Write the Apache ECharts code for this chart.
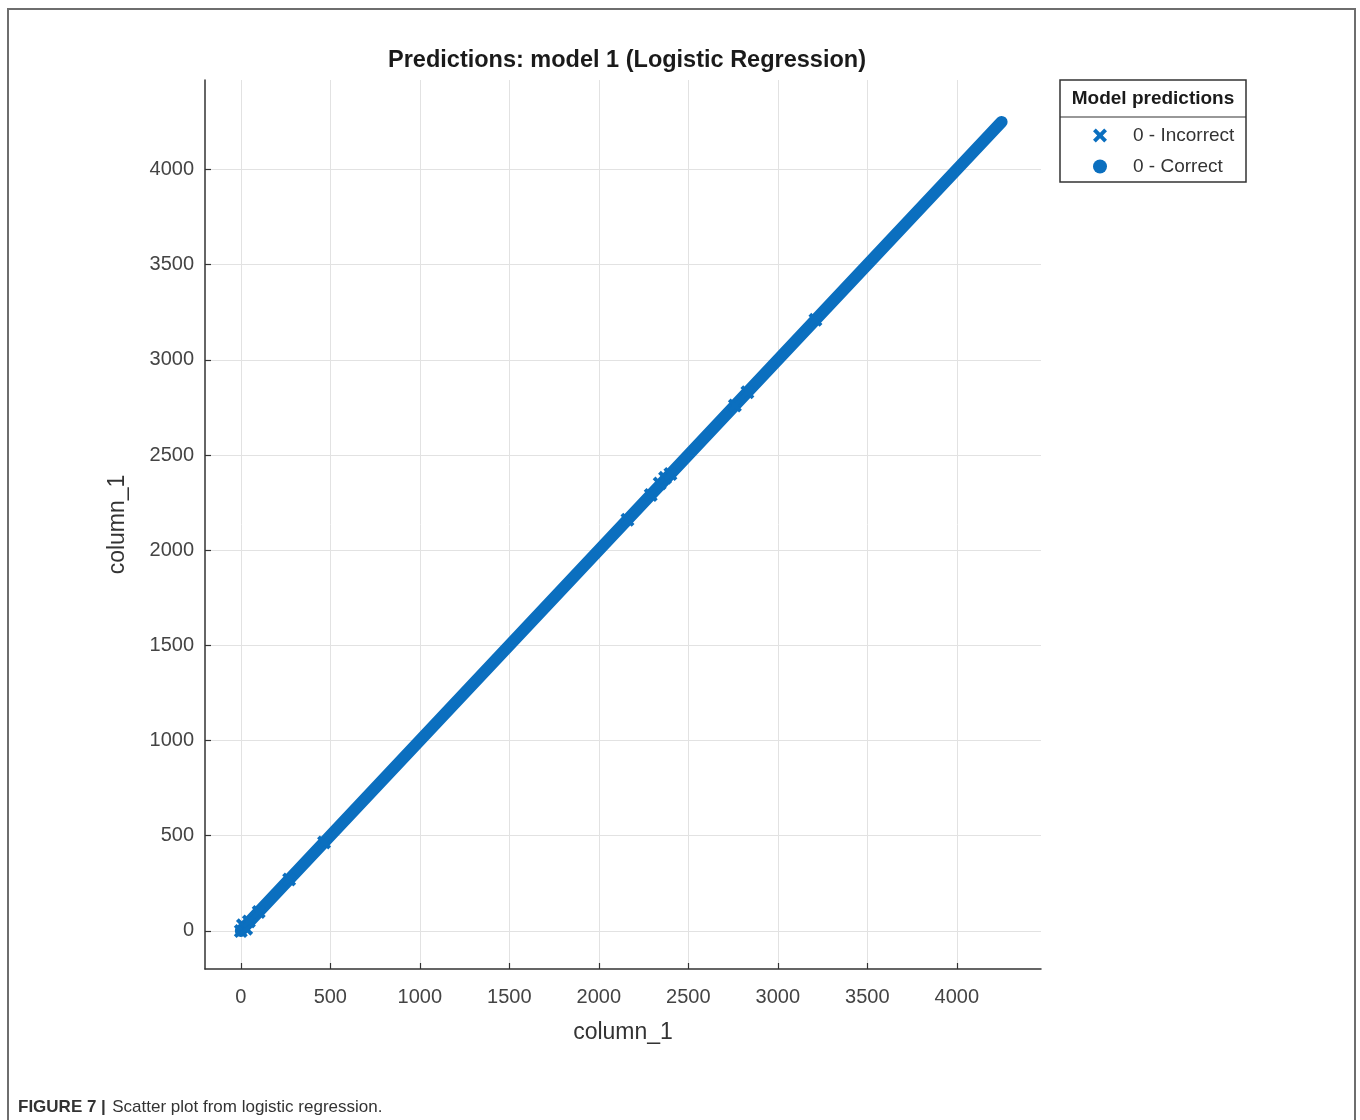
<!DOCTYPE html>
<html>
<head>
<meta charset="utf-8">
<script src="https://cdn.jsdelivr.net/npm/echarts@6/dist/echarts.min.js"></script>
<style>
  html, body { margin: 0; padding: 0; background: #fff; }
  #chart { width: 1360px; height: 1120px; }
</style>
</head>
<body>
<div id="chart"></div>
<script>
// Tick positions shared by both axes
const tickValues = [0, 500, 1000, 1500, 2000, 2500, 3000, 3500, 4000];

// Correctly predicted records: they run continuously along the diagonal
const correctX = [0, 4250];
const correctY = [0, 4250];

// Incorrectly predicted records
const incorrectX = [0, 12, 30, 45, 100, 270, 465, 2160, 2290, 2340, 2370, 2400, 2760, 2830, 3210];
const incorrectY = [0, 30, 12, 50, 100, 270, 465, 2160, 2290, 2350, 2380, 2400, 2760, 2830, 3210];

const BLUE = '#0b6fbf';
const FONT = '"Liberation Sans", Arial, sans-serif';
const CROSS = 'path://M2,0L5,3L8,0L10,2L7,5L10,8L8,10L5,7L2,10L0,8L3,5L0,2Z';

const pairs = (xs, ys) => xs.map((x, i) => [x, ys[i]]);

const axisCommon = {
  type: 'value',
  min: -200,
  max: 4470,
  nameLocation: 'middle',
  nameTextStyle: { fontFamily: FONT, fontSize: 23, color: '#333' },
  axisLine: { show: true, onZero: false, lineStyle: { color: '#333', width: 1.5 } },
  axisTick: { show: true, inside: true, length: 6, customValues: tickValues,
              lineStyle: { color: '#333', width: 1.2 } },
  axisLabel: { customValues: tickValues, fontFamily: FONT, fontSize: 20, color: '#444',
               formatter: v => String(v) },
  splitLine: { show: true, lineStyle: { color: '#e2e2e2', width: 1 } }
};

const chart = echarts.init(document.getElementById('chart'), null, { renderer: 'canvas' });

chart.setOption({
  backgroundColor: '#fff',
  animation: false,
  title: {
    text: 'Predictions: model 1 (Logistic Regression)',
    left: 622, top: 44, textAlign: 'center',
    textStyle: { fontFamily: FONT, fontSize: 23.5, fontWeight: 'bold', color: '#1a1a1a' }
  },
  grid: { left: 205, right: 319, top: 80, bottom: 151 },
  xAxis: Object.assign({}, axisCommon, {
    name: 'column_1', nameGap: 52,
    axisLabel: Object.assign({}, axisCommon.axisLabel, { margin: 18 })
  }),
  yAxis: Object.assign({}, axisCommon, {
    name: 'column_1', nameGap: 76,
    axisLabel: Object.assign({}, axisCommon.axisLabel, { margin: 11 })
  }),
  legend: {
    orient: 'vertical',
    left: 1088, top: 121,
    itemWidth: 14, itemHeight: 14, itemGap: 12,
    textStyle: { fontFamily: FONT, fontSize: 19, color: '#333', padding: [0, 0, 0, 21] },
    data: [
      { name: '0 - Incorrect', icon: CROSS, itemStyle: { color: BLUE, opacity: 1 } },
      { name: '0 - Correct', icon: 'circle', itemStyle: { color: BLUE, opacity: 1 } }
    ]
  },
  graphic: [
    // outer figure frame (open at the bottom)
    { type: 'polyline', shape: { points: [[8, 1120], [8, 9], [1355, 9], [1355, 1120]] },
      style: { stroke: '#6e6e6e', lineWidth: 2, fill: null } },
    // legend box with its header row
    { type: 'rect', shape: { x: 1060, y: 80, width: 186, height: 102 },
      style: { stroke: '#333', lineWidth: 1.5, fill: '#fff' }, z: -1 },
    { type: 'line', shape: { x1: 1060, y1: 117, x2: 1246, y2: 117 },
      style: { stroke: '#333', lineWidth: 1.2 } },
    { type: 'text', x: 1153, y: 99,
      style: { text: 'Model predictions', fontFamily: FONT, fontSize: 19, fontWeight: 'bold',
               fill: '#1a1a1a', align: 'center', verticalAlign: 'middle' } },
    // figure caption
    { type: 'text', x: 18, y: 1107,
      style: {
        text: '{b|FIGURE 7 |} {r|Scatter plot from logistic regression.}',
        verticalAlign: 'middle',
        rich: {
          b: { fontFamily: FONT, fontSize: 17, fontWeight: 'bold', fill: '#333' },
          r: { fontFamily: FONT, fontSize: 17, fill: '#333', padding: [0, 0, 0, 3] }
        }
      } }
  ],
  series: [
    {
      name: '0 - Correct',
      type: 'line',
      data: pairs(correctX, correctY),
      showSymbol: false,
      symbol: 'circle',
      color: BLUE,
      lineStyle: { color: BLUE, width: 12, cap: 'round' },
      z: 2
    },
    {
      name: '0 - Incorrect',
      type: 'scatter',
      data: pairs(incorrectX, incorrectY),
      symbol: CROSS,
      symbolSize: 14,
      itemStyle: { color: BLUE, opacity: 1 },
      z: 3
    }
  ]
});
</script>
</body>
</html>
